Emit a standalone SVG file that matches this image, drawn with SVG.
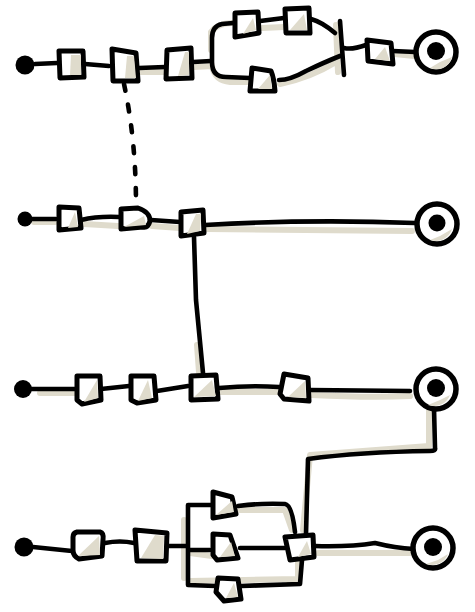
<svg xmlns="http://www.w3.org/2000/svg" width="475" height="612" viewBox="0 0 475 612">
<defs><filter id="soft" x="-5%" y="-5%" width="110%" height="110%"><feGaussianBlur stdDeviation="0.45"/></filter></defs>
<style>
.w{fill:none;stroke:#000;stroke-width:4.6;stroke-linecap:round;stroke-linejoin:round}
.sh{fill:none;stroke:#dfdbcc;stroke-width:6;stroke-linecap:round;stroke-linejoin:round}
.b{fill:#fff;stroke:#000;stroke-width:5;stroke-linecap:round;stroke-linejoin:round}
.f{fill:#dfdbcc}
.p{fill:#000}
.r{fill:#fff;stroke:#000;stroke-width:5.5}
</style>
<rect width="475" height="612" fill="#fff"/>
<g filter="url(#soft)">
<g id="shadows">
<path class="sh" d="M140 72L165 72M194 67L212 66Q215 81 230 82L250 82M280 84Q310 78 336 62M211 50L211 32Q218 23 232 23M262 28L284 27M336 25L338 72M395 54L414 56"/>
<path class="sh" d="M207 229L412 231M197 345L199 372"/>
<path class="sh" d="M40 393L75 393M220 392L278 392M312 395Q370 398 410 396M429 410L429 446L310 455L303 530"/>
<path class="sh" d="M184 520L184 578M190 581L298 579L298 560M240 510L285 510L292 530M318 553L410 553M190 553L212 556"/>
<path class="sh" d="M34 222L55 222M84 224L118 226M152 226L180 228"/>
</g>
<g id="connectors">
<path class="w" d="M35 64L57 63M85 64L109 66M139 68L165 67M193 62L211 61"/>
<path class="w" d="M233 23L222 24Q212 26 212 38L212 62Q212 77 226 77L250 78"/>
<path class="w" d="M260 21L284 18M311 19Q322 22 335 33M279 80Q290 80 306 71Q325 62 340 56M344 48Q352 50 366 45M393 51L415 52"/>
<path class="w" d="M340 21L344 75"/>
<path class="w" d="M124 84Q136 140 136 205" stroke-width="5" stroke-dasharray="7 14"/>
<path class="w" d="M32 219L56 219M81 220Q98 216 119 217M151 220L180 222M205 225Q310 219 415 223"/>
<path class="w" d="M194 237L196 300L203 373"/>
<path class="w" d="M32 389L75 389M101 389L129 386M157 391L188 386M219 388Q250 385 279 387M310 390L410 391"/>
<path class="w" d="M434 408L435 448Q436 451 430 451Q360 452 308 459L306 534"/>
<path class="w" d="M33 547L72 551M105 543Q120 540 134 543M168 546L187 546"/>
<path class="w" d="M212 505L188 505L188 585L215 586M188 550L210 550M238 506Q260 503 285 504Q292 505 295 532M240 548L285 548M241 586L300 584L302 560M315 546Q350 547 375 543Q395 548 414 549"/>
</g>
<g id="start1"><circle class="p" cx="25" cy="65" r="9.5"/></g>
<g id="n1"><path class="b" d="M59 51L83 51L84 77L60 78Z"/><path class="f" d="M71 55L81 55L81 75L70 75Z"/></g>
<g id="n2"><path class="b" d="M112 49L136 53L138 81L113 81Z"/><path class="f" d="M127 56L134 56L136 78L125 78Z"/></g>
<g id="n3"><path class="b" d="M167 50L191 48L192 78L166 79Z"/><path class="f" d="M185 52L189 52L189 75L178 76Z"/></g>
<g id="n4"><path class="b" d="M235 13L258 12L259 33L235 37Z"/><path class="f" d="M253 18L256 30L243 34Z"/></g>
<g id="n5"><path class="b" d="M285 9L309 8L310 33L286 33Z"/><path class="f" d="M304 14L307 30L290 30Z"/></g>
<g id="n6"><path class="b" d="M252 68L271 71Q274 78 275 91L250 91Z"/><path class="f" d="M270 75L272 89L258 89Z"/></g>
<g id="n7"><path class="b" d="M367 40L391 43L393 64L368 61Z"/><path class="f" d="M385 47L390 61L375 59Z"/></g>
<g id="end1"><circle class="r" cx="436" cy="52" r="20"/><path class="f" d="M430 68A16 16 0 0 0 452 57L440 62Z"/><circle class="p" cx="436" cy="51" r="9"/></g>
<g id="start2"><circle class="p" cx="25" cy="219" r="7.5"/></g>
<g id="n8"><path class="b" d="M59 207L79 208L81 228L59 230Z"/><path class="f" d="M75 212L78 227L68 228Z"/></g>
<g id="n9"><path class="b" d="M121 209L138 208Q150 212 150 221Q148 228 143 227L121 229Z"/><path class="f" d="M144 216L146 225L124 227Z"/></g>
<g id="n10"><path class="b" d="M181 212L203 210L204 233L181 236Z"/><path class="f" d="M196 214L201 214L200 231L187 234Z"/></g>
<g id="end2"><circle class="r" cx="437" cy="224" r="20"/><path class="f" d="M430 240A17 17 0 0 0 452 229L440 236Z"/><circle class="p" cx="437" cy="223" r="8.5"/></g>
<g id="start3"><circle class="p" cx="23" cy="389" r="9"/></g>
<g id="n11"><path class="b" d="M77 376L100 376L101 400L82 404L77 400Z"/><path class="f" d="M97 380L98 398L84 402Z"/></g>
<g id="n12"><path class="b" d="M131 376L154 376L156 400L137 403L131 400Z"/><path class="f" d="M148 380L152 398L138 401Z"/></g>
<g id="n13"><path class="b" d="M191 376L216 375L218 399L191 400Z"/><path class="f" d="M212 380L216 396L194 397Z"/></g>
<g id="n14"><path class="b" d="M284 374L308 378L309 401L284 399L280 394Z"/><path class="f" d="M305 381L306 398L288 397Z"/></g>
<g id="end3"><circle class="r" cx="436" cy="389" r="20"/><path class="f" d="M428 405A17 17 0 0 0 450 395L440 400Z"/><circle class="p" cx="436" cy="388" r="9"/></g>
<g id="start4"><circle class="p" cx="24" cy="547" r="9.5"/></g>
<g id="n15"><path class="b" d="M77 532L100 532Q104 533 103 540L102 556L79 559Q73 556 73 550L73 537Q73 533 77 532Z"/><path class="f" d="M99 536L100 555L78 556Z"/></g>
<g id="n16"><path class="b" d="M135 530L167 533L166 561L137 561Z"/><path class="f" d="M155 535L164 536L163 559L141 558Z"/></g>
<g id="n17"><path class="b" d="M213 492L232 497L236 514L213 518Z"/><path class="f" d="M232 501L234 512L216 515Z"/></g>
<g id="n18"><path class="b" d="M213 534L230 535L238 558L217 560L213 555Z"/><path class="f" d="M231 542L235 556L220 557Z"/></g>
<g id="n19"><path class="b" d="M218 578L238 579L241 599L224 601L216 592Z"/><path class="f" d="M234 583L238 597L226 598Z"/></g>
<g id="n20"><path class="b" d="M285 537L313 535L314 557L290 560Z"/><path class="f" d="M307 541L311 554L298 557Z"/></g>
<g id="end4"><circle class="r" cx="433" cy="548" r="20"/><path class="f" d="M426 564A17 17 0 0 0 448 554L438 560Z"/><circle class="p" cx="433" cy="547" r="9"/></g>
</g>
</svg>
